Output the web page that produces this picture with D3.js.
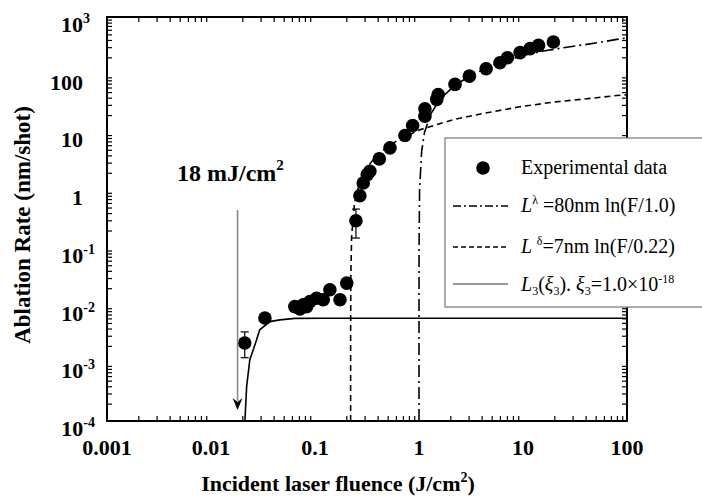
<!DOCTYPE html>
<html>
<head>
<meta charset="utf-8">
<script src="https://cdn.jsdelivr.net/npm/d3@7"></script>
<style>
  body { margin: 0; background: #fff; }
  svg text { font-family: "Liberation Serif", "Times New Roman", serif; fill: #000; }
</style>
</head>
<body>
<svg id="chart"></svg>
<script>
// Experimental points: fluence (J/cm2) and ablation rate (nm/shot)
const fluence = [0.0211, 0.033, 0.064, 0.0716, 0.077, 0.083, 0.0893, 0.1035, 0.12, 0.139, 0.174, 0.202,
    0.2475, 0.27, 0.291, 0.318, 0.337, 0.415, 0.526, 0.733, 0.869, 1.14, 1.14, 1.48, 1.53, 2.22,
    3.05, 4.42, 6.0, 7.08, 9.37, 11.7, 14.1, 19.6];
const rate = [0.00225, 0.0061, 0.0096, 0.0087, 0.0103, 0.0096, 0.0117, 0.0134, 0.0126, 0.0188, 0.0126, 0.0245,
    0.295, 0.80, 1.33, 1.86, 2.12, 3.48, 5.4, 8.84, 13.2, 19.1, 25.7, 37.3, 45.5, 67.9,
    94.5, 127, 161, 197, 241, 283, 323, 368];
// error bars (null = none drawn)
const errLow = [0.00125, 0.0052, null, null, null, null, null, null, null, null, null, null,
    0.148, null, null, null, null, 3.0, null, null, null, null, null, null, null, null,
    null, null, null, null, null, null, null, null];
const errHigh = [0.0035, 0.0072, null, null, null, null, null, null, null, null, null, null,
    0.47, null, null, null, null, 4.3, null, null, null, null, null, null, null, null,
    null, null, null, null, null, null, null, null];

// L^lambda = 80nm ln(F/1.0)  (dash-dot)
const lambdaF = [1.0, 1.001, 1.0125, 1.06, 1.13, 1.3, 1.6, 2.2, 3, 5, 10, 15.7, 24.5, 41, 57, 80, 100];
const lambdaV = [0.0001, 0.08, 1.0, 4.7, 10, 21, 38, 65, 92, 145, 215, 257, 294, 336, 368, 410, 435];

// L^delta = 7nm ln(F/0.22)  (dashed)
const deltaF = [0.22, 0.2201, 0.221, 0.225, 0.24, 0.27, 0.3, 0.4, 0.6, 1.0, 2.14, 4.49, 9.3, 19.4, 41, 80, 100];
const deltaV = [0.0001, 0.003, 0.032, 0.16, 0.6, 1.4, 2.2, 4.2, 7.0, 11, 16.7, 21.9, 27.8, 33.4, 38.3, 43.7, 45];

// L3(xi3) (solid)
const l3F = [0.0212, 0.022, 0.0236, 0.0274, 0.0294, 0.0368, 0.0459, 0.064, 0.119, 1, 10, 100];
const l3V = [0.0001, 0.00039, 0.00114, 0.00254, 0.0038, 0.00527, 0.00565, 0.0060, 0.00604, 0.00604, 0.00604, 0.00604];

const xTickValues = [0.001, 0.01, 0.1, 1, 10, 100];
const xTickLabels = ["0.001", "0.01", "0.1", "1", "10", "100"];
const yTickValues = [1e-4, 1e-3, 1e-2, 1e-1, 1, 10, 100, 1000];
const yTickBase = ["10", "10", "10", "10", "1", "10", "100", "10"];
const yTickExp = ["-4", "-3", "-2", "-1", "", "", "", "3"];

const thresholdF = 0.018;

const width = 702, height = 497;
const margin = {top: 17, right: 75, bottom: 76, left: 107};
const innerW = width - margin.left - margin.right;
const innerH = height - margin.top - margin.bottom;

const svg = d3.select("#chart").attr("width", width).attr("height", height);
const g = svg.append("g").attr("transform", `translate(${margin.left},${margin.top})`);

const x = d3.scaleLog().domain([0.001, 100]).range([0, innerW]);
const y = d3.scaleLog().domain([1e-4, 1000]).range([innerH, 0]);

const xMinor = x.ticks().filter(d => !xTickValues.some(t => Math.abs(t - d) / t < 1e-6));
const yMinor = y.ticks().filter(d => !yTickValues.some(t => Math.abs(t - d) / t < 1e-6));

// ticks on all four sides, pointing inward
function tickAxis(axisFn, scale, major, minor, transform) {
    const a = g.append("g").attr("transform", transform);
    a.call(axisFn(scale).tickValues(major).tickSize(-8).tickFormat(""));
    a.call(axisFn(scale).tickValues(minor).tickSize(-5).tickFormat(""));
    a.selectAll(".domain").remove();
    a.selectAll("line").attr("stroke", "#000").attr("stroke-width", 1.2);
}
tickAxis(d3.axisBottom, x, xTickValues, xMinor, `translate(0,${innerH})`);
tickAxis(d3.axisTop, x, xTickValues, xMinor, "translate(0,0)");
tickAxis(d3.axisLeft, y, yTickValues, yMinor, "translate(0,0)");
tickAxis(d3.axisRight, y, yTickValues, yMinor, `translate(${innerW},0)`);

// frame
g.append("rect")
    .attr("width", innerW).attr("height", innerH)
    .attr("fill", "none").attr("stroke", "#000").attr("stroke-width", 2);

// x tick labels
g.selectAll(".xlab")
    .data(xTickValues)
    .join("text")
    .attr("class", "xlab")
    .attr("x", d => x(d))
    .attr("y", innerH + 34)
    .attr("text-anchor", "middle")
    .attr("font-size", 22)
    .attr("font-weight", "bold")
    .text((d, i) => xTickLabels[i]);

// y tick labels with superscripts
const ylab = g.selectAll(".ylab")
    .data(yTickValues)
    .join("text")
    .attr("class", "ylab")
    .attr("x", (d, i) => yTickExp[i] === "" ? -24 : (yTickExp[i].startsWith("-") ? -12 : -17))
    .attr("y", d => y(d) + 15)
    .attr("text-anchor", "end")
    .attr("font-size", 22)
    .attr("font-weight", "bold");
ylab.append("tspan").text((d, i) => yTickBase[i]);
ylab.append("tspan")
    .attr("dy", -9)
    .attr("font-size", 14)
    .text((d, i) => yTickExp[i]);

// axis titles
svg.append("text")
    .attr("x", margin.left + innerW / 2 - 29)
    .attr("y", 491)
    .attr("text-anchor", "middle")
    .attr("font-size", 22)
    .attr("font-weight", "bold")
    .call(t => {
        t.append("tspan").text("Incident laser fluence (J/cm");
        t.append("tspan").attr("dy", -9).attr("font-size", 14).text("2");
        t.append("tspan").attr("dy", 9).text(")");
    });

svg.append("text")
    .attr("transform", `translate(30,${margin.top + innerH / 2 + 6}) rotate(-90)`)
    .attr("text-anchor", "middle")
    .attr("font-size", 23)
    .attr("font-weight", "bold")
    .text("Ablation Rate (nm/shot)");

// curves
const line = d3.line().x(d => x(d[0])).y(d => y(d[1]));
const plot = g.append("g");

plot.append("path")
    .datum(l3F.map((f, i) => [f, l3V[i]]))
    .attr("d", line)
    .attr("fill", "none").attr("stroke", "#000").attr("stroke-width", 1.6);

plot.append("path")
    .datum(deltaF.map((f, i) => [f, deltaV[i]]))
    .attr("d", line)
    .attr("fill", "none").attr("stroke", "#000").attr("stroke-width", 1.6)
    .attr("stroke-dasharray", "6,4");

plot.append("path")
    .datum(lambdaF.map((f, i) => [f, lambdaV[i]]))
    .attr("d", line)
    .attr("fill", "none").attr("stroke", "#000").attr("stroke-width", 1.6)
    .attr("stroke-dasharray", "12,4,2,4");

// error bars
const pts = fluence.map((f, i) => ({f, v: rate[i], lo: errLow[i], hi: errHigh[i]}));
const eb = plot.selectAll(".err")
    .data(pts.filter(d => d.lo !== null))
    .join("g").attr("class", "err")
    .attr("stroke", "#000").attr("stroke-width", 1.2);
eb.append("line")
    .attr("x1", d => x(d.f)).attr("x2", d => x(d.f))
    .attr("y1", d => y(d.lo)).attr("y2", d => y(d.hi));
eb.append("line")
    .attr("x1", d => x(d.f) - 4).attr("x2", d => x(d.f) + 4)
    .attr("y1", d => y(d.lo)).attr("y2", d => y(d.lo));
eb.append("line")
    .attr("x1", d => x(d.f) - 4).attr("x2", d => x(d.f) + 4)
    .attr("y1", d => y(d.hi)).attr("y2", d => y(d.hi));

// points
plot.selectAll(".pt")
    .data(pts)
    .join("circle")
    .attr("class", "pt")
    .attr("cx", d => x(d.f))
    .attr("cy", d => y(d.v))
    .attr("r", 6.8)
    .attr("fill", "#000");

// threshold arrow
const ax = x(thresholdF);
plot.append("line")
    .attr("x1", ax).attr("x2", ax)
    .attr("y1", 193).attr("y2", 384)
    .attr("stroke", "#8a8a8a").attr("stroke-width", 1.6);
plot.append("path")
    .attr("d", `M${ax - 5},${381} L${ax},${393} L${ax + 5},${381} L${ax},${385} Z`)
    .attr("fill", "#000");

svg.append("text")
    .attr("x", 177)
    .attr("y", 181)
    .attr("font-size", 24)
    .attr("font-weight", "bold")
    .call(t => {
        t.append("tspan").text("18 mJ/cm");
        t.append("tspan").attr("dy", -11).attr("font-size", 15).text("2");
    });

// legend
const legend = svg.append("g").attr("transform", "translate(445,138)");
legend.append("rect")
    .attr("width", 262).attr("height", 169)
    .attr("fill", "#fff").attr("stroke", "#777").attr("stroke-width", 1.2);

legend.append("circle").attr("cx", 38).attr("cy", 30).attr("r", 6.8).attr("fill", "#000");
legend.append("line").attr("x1", 8).attr("x2", 63).attr("y1", 68).attr("y2", 68)
    .attr("stroke", "#000").attr("stroke-width", 1.4).attr("stroke-dasharray", "8,3,2,3");
legend.append("line").attr("x1", 8).attr("x2", 63).attr("y1", 109).attr("y2", 109)
    .attr("stroke", "#000").attr("stroke-width", 1.4).attr("stroke-dasharray", "5,3");
legend.append("line").attr("x1", 8).attr("x2", 63).attr("y1", 146).attr("y2", 146)
    .attr("stroke", "#777").attr("stroke-width", 1.4);

const lt = (yy) => legend.append("text").attr("x", 76).attr("y", yy).attr("font-size", 20);

lt(36).text("Experimental data");

lt(74).call(t => {
    t.append("tspan").attr("font-style", "italic").text("L");
    t.append("tspan").attr("dy", -8).attr("font-size", 12).text("λ");
    t.append("tspan").attr("dy", 8).text(" =80nm ln(F/1.0)");
});

lt(115).call(t => {
    t.append("tspan").attr("font-style", "italic").text("L ");
    t.append("tspan").attr("dy", -8).attr("font-size", 12).text("δ");
    t.append("tspan").attr("dy", 8).text("=7nm ln(F/0.22)");
});

lt(153).call(t => {
    t.append("tspan").attr("font-style", "italic").text("L");
    t.append("tspan").attr("dy", 4).attr("font-size", 12).text("3");
    t.append("tspan").attr("dy", -4).text("(");
    t.append("tspan").attr("font-style", "italic").text("ξ");
    t.append("tspan").attr("dy", 4).attr("font-size", 12).text("3");
    t.append("tspan").attr("dy", -4).text("). ");
    t.append("tspan").attr("font-style", "italic").text("ξ");
    t.append("tspan").attr("dy", 4).attr("font-size", 12).text("3");
    t.append("tspan").attr("dy", -4).text("=1.0×10");
    t.append("tspan").attr("dy", -8).attr("font-size", 12).text("-18");
});
</script>
</body>
</html>
